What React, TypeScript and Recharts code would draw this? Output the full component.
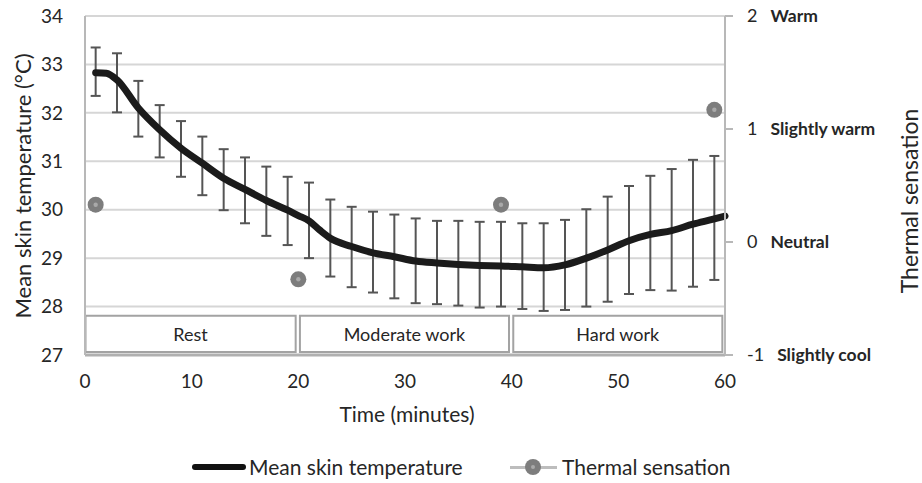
import React from 'react';
import {
  ComposedChart,
  Line,
  ErrorBar,
  Scatter,
  XAxis,
  YAxis,
  CartesianGrid,
  ReferenceArea,
  Legend,
} from 'recharts';

// ---------- data ----------
const minutes = [1, 2, 3, 5, 7, 9, 11, 13, 15, 17, 19, 20, 21, 22, 23, 25, 27, 29, 31, 33, 35, 37, 39, 41, 43, 45, 47, 49, 51, 53, 55, 57, 59, 60];
const meanTemp = [32.83, 32.82, 32.68, 32.1, 31.65, 31.27, 30.96, 30.65, 30.42, 30.19, 29.99, 29.88, 29.77, 29.58, 29.41, 29.24, 29.11, 29.03, 28.94, 28.9, 28.87, 28.85, 28.84, 28.82, 28.8, 28.86, 29.0, 29.17, 29.36, 29.49, 29.57, 29.7, 29.81, 29.87];
const barTop = [33.35, null, 33.23, 32.66, 32.16, 31.83, 31.51, 31.25, 31.08, 30.89, 30.68, null, 30.56, null, 30.21, 30.06, 29.96, 29.9, 29.82, 29.77, 29.77, 29.75, 29.75, 29.72, 29.72, 29.79, 30.01, 30.27, 30.49, 30.7, 30.84, 31.03, 31.11, null];
const barBottom = [32.35, null, 32.01, 31.51, 31.08, 30.68, 30.3, 29.99, 29.72, 29.46, 29.27, null, 29.0, null, 28.62, 28.4, 28.29, 28.17, 28.07, 28.05, 28.02, 27.98, 28.0, 27.95, 27.91, 27.93, 28.0, 28.1, 28.26, 28.34, 28.33, 28.41, 28.55, null];

const sensationMinutes = [1, 20, 39, 59];
const sensationValues = [0.33, -0.33, 0.33, 1.17];

const phaseNames = ['Rest', 'Moderate work', 'Hard work'];
const phaseStart = [0, 20, 40];
const phaseEnd = [20, 40, 60];

const tempTicks = [27, 28, 29, 30, 31, 32, 33, 34];
const timeTicks = [0, 10, 20, 30, 40, 50, 60];
const sensationTicks = [-1, 0, 1, 2];
const sensationWords = ['Slightly cool', 'Neutral', 'Slightly warm', 'Warm'];

// ---------- derived tables ----------
const tempData = minutes.map((m, i) => {
  const top = barTop[i];
  const bot = barBottom[i];
  return {
    minute: m,
    mean: meanTemp[i],
    err: top != null && bot != null ? [meanTemp[i] - bot, top - meanTemp[i]] : null,
  };
});
const sensationData = sensationMinutes.map((m, i) => ({ minute: m, sensation: sensationValues[i] }));

const FONT = 'Lato, "Open Sans", sans-serif';
const TEXT = '#262626';

const SensationTick = (props: any) => {
  const { x, y, payload } = props;
  const idx = sensationTicks.indexOf(payload.value);
  return (
    <text x={x + 12} y={y} dy="0.35em" fontFamily={FONT} fontSize={18} fill={TEXT}>
      <tspan>{payload.value}</tspan>
      <tspan dx={13} fontWeight="bold" fontSize={17.5}>{sensationWords[idx]}</tspan>
    </text>
  );
};

const SensationDot = (props: any) => {
  const { cx, cy } = props;
  return (
    <g>
      <circle cx={cx} cy={cy} r={8} fill="#7d7d7d" />
      <circle cx={cx} cy={cy} r={2.2} fill="#a9a9a9" />
    </g>
  );
};

const VTitle = ({ cx, cy, size, text }: { cx: number; cy: number; size: number; text: string }) => (
  <text x={cx} y={cy} transform={`rotate(-90 ${cx} ${cy})`} textAnchor="middle" dominantBaseline="central" fontFamily={FONT} fontSize={size} fill={TEXT}>
    {text}
  </text>
);

const LeftLabel = () => <VTitle cx={22} cy={186} size={22} text="Mean skin temperature (°C)" />;
const RightLabel = () => <VTitle cx={909} cy={201} size={23} text="Thermal sensation" />;

const BottomLabel = () => (
  <text x={407} y={413} textAnchor="middle" dominantBaseline="central" fontFamily={FONT} fontSize={21} fill={TEXT}>
    Time (minutes)
  </text>
);

const LegendContent = () => (
  <div style={{ position: 'relative', width: 922, height: 30, fontFamily: FONT, fontSize: 21, color: TEXT }}>
    <div style={{ position: 'absolute', left: 192, top: 12, width: 54, height: 6, background: '#111', borderRadius: 3 }} />
    <span style={{ position: 'absolute', left: 249, top: 0, lineHeight: '30px', whiteSpace: 'nowrap' }}>Mean skin temperature</span>
    <div style={{ position: 'absolute', left: 510, top: 14, width: 47, height: 3, background: '#bdbdbd' }} />
    <div style={{ position: 'absolute', left: 525, top: 7, width: 16, height: 16, borderRadius: 8, background: '#7d7d7d' }} />
    <div style={{ position: 'absolute', left: 531, top: 13, width: 4, height: 4, borderRadius: 2, background: '#a9a9a9' }} />
    <span style={{ position: 'absolute', left: 562, top: 0, lineHeight: '30px', whiteSpace: 'nowrap' }}>Thermal sensation</span>
  </div>
);

const PhaseLabel = (name: string) => (props: any) => {
  const vb = props.viewBox;
  return (
    <text x={vb.x + vb.width / 2} y={vb.y + vb.height / 2} textAnchor="middle" dominantBaseline="central" fontFamily={FONT} fontSize={18} fill={TEXT}>
      {name}
    </text>
  );
};

export default function App() {
  return (
    <div style={{ position: 'absolute', left: 0, top: 0, width: 922, height: 483, background: '#fff' }}>
      <ComposedChart width={922} height={483} data={tempData} margin={{ top: 16, right: 0, bottom: 58, left: 0 }}>
        <CartesianGrid yAxisId="left" vertical={false} stroke="#d6d6d6" strokeWidth={2} />
        <XAxis
          dataKey="minute"
          type="number"
          domain={[0, 60]}
          ticks={timeTicks}
          height={70}
          axisLine={{ stroke: '#b0b0b0', strokeWidth: 3 }}
          tickLine={false}
          tickSize={6}
          tickMargin={14}
          tick={{ fontFamily: FONT, fontSize: 19, fill: TEXT }}
          label={{ content: BottomLabel }}
        />
        <YAxis
          yAxisId="left"
          domain={[27, 34]}
          ticks={tempTicks}
          width={85}
          axisLine={{ stroke: '#b8b8b8', strokeWidth: 2 }}
          tickLine={false}
          tickSize={6}
          tickMargin={16}
          tick={{ fontFamily: FONT, fontSize: 19, fill: TEXT }}
          label={{ content: LeftLabel }}
        />
        <YAxis
          yAxisId="right"
          orientation="right"
          domain={[-1, 2]}
          ticks={sensationTicks}
          width={197}
          axisLine={{ stroke: '#b8b8b8', strokeWidth: 2 }}
          tickLine={{ stroke: '#b8b8b8', strokeWidth: 2 }}
          tickSize={8}
          tickMargin={2}
          tick={<SensationTick />}
          label={{ content: RightLabel }}
        />
        {phaseNames.map((name, i) => (
          <ReferenceArea
            key={name}
            yAxisId="left"
            x1={phaseStart[i] + (i === 0 ? 0.05 : 0.15)}
            x2={phaseEnd[i] - 0.25}
            y1={27.06}
            y2={27.81}
            fill="#ffffff"
            fillOpacity={1}
            stroke="#a3a3a3"
            strokeWidth={2}
            label={{ content: PhaseLabel(name) }}
          />
        ))}
        <Line
          yAxisId="left"
          dataKey="mean"
          type="monotone"
          stroke="#1b1b1b"
          strokeWidth={7}
          strokeLinecap="round"
          dot={false}
          isAnimationActive={false}
        >
          <ErrorBar dataKey="err" direction="y" width={5} stroke="#555555" strokeWidth={2} />
        </Line>
        <Scatter
          yAxisId="right"
          data={sensationData}
          dataKey="sensation"
          shape={<SensationDot />}
          isAnimationActive={false}
        />
        <Legend
          layout="horizontal"
          verticalAlign="middle"
          align="center"
          wrapperStyle={{ position: 'absolute', top: 452, left: 0, width: 922, height: 30 }}
          content={LegendContent}
        />
      </ComposedChart>
    </div>
  );
}
